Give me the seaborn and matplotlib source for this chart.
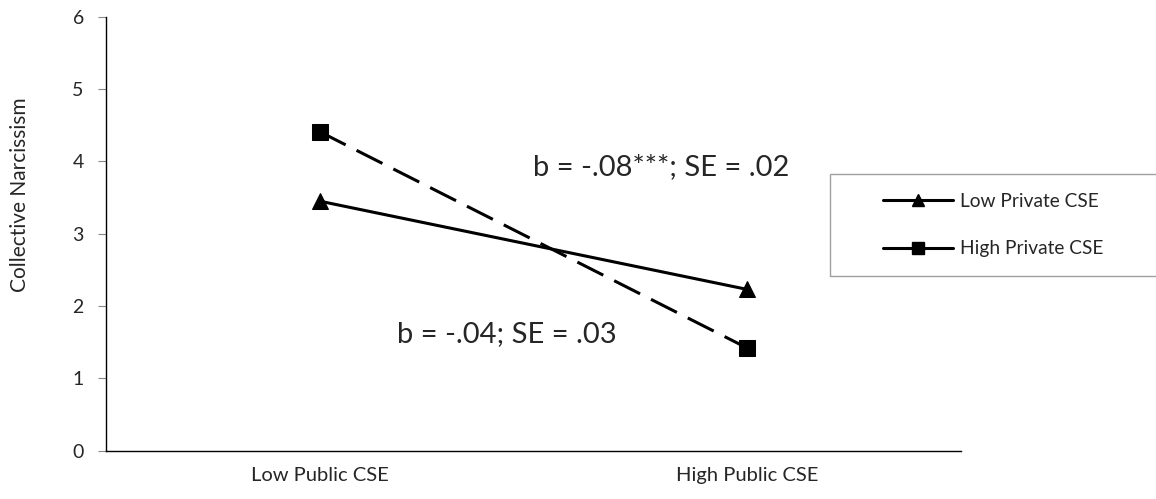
import pandas as pd
import matplotlib.pyplot as plt
import seaborn as sns
from matplotlib.lines import Line2D
from matplotlib.patches import Rectangle

# values
public_levels = ["Low Public CSE", "High Public CSE"]
low_private = [3.45, 2.23]
high_private = [4.41, 1.42]
series_names = ["Low Private CSE", "High Private CSE"]

df = pd.DataFrame({
    "public": public_levels * 2,
    "score": low_private + high_private,
    "private": [series_names[0]] * 2 + [series_names[1]] * 2,
})
df["xpos"] = [0, 1, 0, 1]

sns.set_style("white")
plt.rcParams['font.family'] = ['Lato', 'DejaVu Sans']

fig = plt.figure(figsize=(11.56, 4.99), dpi=100)
ax = fig.add_axes([0.0917, 0.0968, 0.7395, 0.8697])

sns.lineplot(data=df, x="xpos", y="score", hue="private", style="private",
             palette=["black", "black"], markers={series_names[0]: "^", series_names[1]: "s"},
             dashes={series_names[0]: "", series_names[1]: (9.5, 4)},
             linewidth=2.2, markersize=11, markeredgecolor="black",
             legend=False, ax=ax)

ax.set_xlim(-0.5, 1.5)
ax.set_ylim(0, 6)
ax.set_xticks([0, 1])
ax.set_xticklabels(public_levels)
ax.set_xticks([-0.5, 0.5, 1.5], minor=True)
ax.tick_params(axis="x", which="major", length=0, pad=12, labelsize=14.5)
ax.tick_params(axis="x", which="minor", length=6, width=0.8, color="#888888", direction="out")
ax.set_yticks(range(0, 7))
ax.tick_params(axis="y", length=6, width=0.8, color="#888888", pad=10, labelsize=14, left=True)
ax.set_xlabel("")
ax.set_ylabel("Collective Narcissism", fontsize=15, va="center")
ax.yaxis.set_label_coords(-0.1006, 0.589)
for side in ["top", "right"]:
    ax.spines[side].set_visible(False)
for side in ["left", "bottom"]:
    ax.spines[side].set_color("black")
    ax.spines[side].set_linewidth(1.0)

ax.text(0.499, 3.81, "b = -.08***; SE = .02", fontsize=21, va="baseline", ha="left")
ax.text(0.181, 1.50, "b = -.04; SE = .03", fontsize=21, va="baseline", ha="left")

# legend box
fig.add_artist(Rectangle((0.718, 0.447), 0.3, 0.204, transform=fig.transFigure,
                         fill=False, edgecolor="#a0a0a0", linewidth=1.0))
handles = [
    Line2D([], [], color="black", lw=2.2, marker="^", markersize=9),
    Line2D([], [], color="black", lw=2.2, marker="s", markersize=8),
]
fig.legend(handles, series_names, loc="center", bbox_to_anchor=(0.859, 0.549),
           frameon=False, handlelength=3.65, handletextpad=0.36, labelspacing=1.6,
           fontsize=13.8, borderpad=0, borderaxespad=0)

fig.savefig("out.png", dpi=100)
